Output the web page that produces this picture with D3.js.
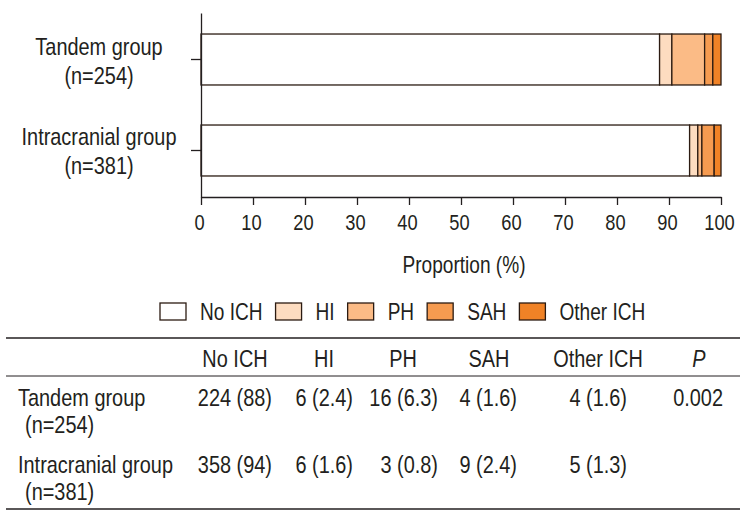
<!DOCTYPE html>
<html>
<head>
<meta charset="utf-8">
<script src="https://cdn.jsdelivr.net/npm/d3@7/dist/d3.min.js"></script>
<style>
  html, body { margin: 0; padding: 0; background: #fff; }
  svg text { font-family: "Liberation Sans", Arial, sans-serif; fill: #231f20; }
</style>
</head>
<body>
<div id="chart"></div>
<script>
// groups and their sizes
const groups = ["Tandem group", "Intracranial group"];
const groupN = [254, 381];
// ICH categories (stack order, left to right)
const categories = ["No ICH", "HI", "PH", "SAH", "Other ICH"];
const colors = ["#ffffff", "#fddcc0", "#fbbb86", "#f69b50", "#f08226"];
// patient counts per category, one array per group
const tandemCounts = [224, 6, 16, 4, 4];
const intracranialCounts = [358, 6, 3, 9, 5];
// percentages as printed in the table
const tandemPct = ["88", "2.4", "6.3", "1.6", "1.6"];
const intracranialPct = ["94", "1.6", "0.8", "2.4", "1.3"];
const pValues = ["0.002", ""];
const xTicks = [0, 10, 20, 30, 40, 50, 60, 70, 80, 90, 100];

const width = 746, height = 519;
const ink = "#231f20";
const barStroke = "#2b1b12";
// the original face is a narrow sans, so squeeze glyphs horizontally
const narrow = 0.83;

const svg = d3.select("#chart").append("svg")
  .attr("width", width)
  .attr("height", height);

// text helper: real text, condensed with a horizontal scale
function label(parent, x, y, str, size, anchor = "start") {
  return parent.append("text")
    .attr("transform", `translate(${x},${y}) scale(${narrow},1)`)
    .attr("text-anchor", anchor)
    .style("font-size", size + "px")
    .text(str);
}

// build stacked rows (proportion of each group)
const counts = [tandemCounts, intracranialCounts];
const rows = groups.map((g, gi) => {
  let acc = 0;
  return categories.map((c, ci) => {
    const v = counts[gi][ci] / groupN[gi] * 100;
    const seg = { group: g, cat: c, i: ci, x0: acc, x1: acc + v };
    acc += v;
    return seg;
  });
});

//Create scale functions
const xScale = d3.scaleLinear().domain([0, 100]).range([201, 721]);
const yScale = d3.scaleBand().domain(groups).range([13, 197])
  .paddingInner(0.44).paddingOuter(0.231);

// bars
svg.append("g").selectAll("g")
  .data(rows)
  .join("g")
  .selectAll("rect")
  .data(d => d)
  .join("rect")
  .attr("x", d => xScale(d.x0))
  .attr("y", d => yScale(d.group))
  .attr("width", d => xScale(d.x1) - xScale(d.x0))
  .attr("height", yScale.bandwidth())
  .attr("fill", d => colors[d.i])
  .attr("stroke", barStroke)
  .attr("stroke-width", 1.3);

//Define X axis
const xAxis = d3.axisBottom(xScale).tickValues(xTicks).tickSize(8).tickSizeOuter(0);
const gx = svg.append("g")
  .attr("transform", "translate(0,197)")
  .call(xAxis);
gx.attr("font-family", null);
gx.selectAll("path, line").attr("stroke", ink).attr("stroke-width", 1.3);
gx.selectAll("text")
  .attr("y", null)
  .attr("dy", null)
  .attr("transform", `translate(-2,33) scale(${narrow},1)`)
  .style("font-size", "22px")
  .attr("fill", ink);

//Define Y axis
const yAxis = d3.axisLeft(yScale).tickSize(10).tickSizeOuter(0).tickFormat("");
const gy = svg.append("g")
  .attr("transform", "translate(201,0)")
  .call(yAxis);
gy.selectAll("path, line").attr("stroke", ink).attr("stroke-width", 1.3);

// group labels, two lines each
const yLabels = svg.append("g");
groups.forEach((g, i) => {
  const cy = yScale(g) + yScale.bandwidth() / 2;
  label(yLabels, 99, cy - 5, g, 24, "middle");
  label(yLabels, 99, cy + 24, `(n=${groupN[i]})`, 24, "middle");
});

// x axis title
label(svg, 464, 273, "Proportion (%)", 23, "middle");

// legend
const legend = svg.append("g").attr("transform", "translate(160,303)");
let lx = 0;
categories.forEach((c, i) => {
  const item = legend.append("g").attr("transform", `translate(${lx},0)`);
  item.append("rect")
    .attr("width", 26).attr("height", 17)
    .attr("fill", colors[i])
    .attr("stroke", barStroke)
    .attr("stroke-width", 1.3);
  const t = label(item, 40, 16.5, c, 23);
  lx += 40 + t.node().getComputedTextLength() * narrow + 13;
});

// table
const table = svg.append("g");
const colRight = [272, 353, 438, 517, 627];
const colHead = [235, 324, 403, 489, 598];
[338, 376, 509].forEach(y => {
  table.append("line")
    .attr("x1", 6).attr("x2", 740)
    .attr("y1", y).attr("y2", y)
    .attr("stroke", ink)
    .attr("stroke-width", y === 376 ? 1 : 1.3);
});
categories.forEach((c, i) => {
  label(table, colHead[i], 367, c, 24, "middle");
});
label(table, 699, 367, "P", 24, "middle").style("font-style", "italic");

const pcts = [tandemPct, intracranialPct];
const rowBase = [406, 473];
groups.forEach((g, gi) => {
  label(table, 18, rowBase[gi], g, 24);
  label(table, 25, rowBase[gi] + 27, `(n=${groupN[gi]})`, 24);
  counts[gi].forEach((v, ci) => {
    label(table, colRight[ci], rowBase[gi], `${v} (${pcts[gi][ci]})`, 24, "end");
  });
  if (pValues[gi]) label(table, 723, rowBase[gi], pValues[gi], 24, "end");
});
</script>
</body>
</html>
